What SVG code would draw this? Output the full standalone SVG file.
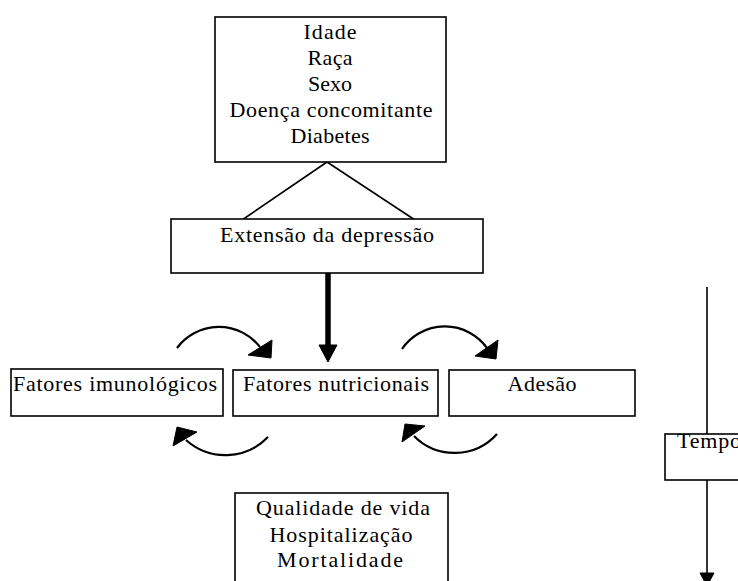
<svg xmlns="http://www.w3.org/2000/svg" width="738" height="581" viewBox="0 0 738 581">
<style>
.box{fill:#fff;stroke:#000;stroke-width:1.6}
.t{font-family:"Liberation Serif","Times New Roman",serif;font-size:22px;fill:#000;text-anchor:middle}
.ln{fill:none;stroke:#000;stroke-width:1.6}
.arc{fill:none;stroke:#000;stroke-width:2.2}
.head{fill:#000;stroke:#000;stroke-width:1}
</style>
<rect width="738" height="581" fill="#fff"/>
<g id="connectors">
<line class="ln" x1="327" y1="162" x2="242" y2="220"/>
<line class="ln" x1="327" y1="162" x2="415" y2="220"/>
<line x1="328" y1="273" x2="328" y2="347" stroke="#000" stroke-width="5.5"/>
<polygon class="head" points="319,345 337,345 328,362"/>
<path class="arc" d="M177,348 A52,52 0 0 1 260,347"/>
<polygon class="head" points="248,355 272,340 271,358"/>
<path class="arc" d="M402,349 A52,52 0 0 1 487,348"/>
<polygon class="head" points="475,356 498,340 496,359"/>
<path class="arc" d="M268,437 A59,59 0 0 1 186,440"/>
<polygon class="head" points="177,427 197,432 173,446"/>
<path class="arc" d="M497,434 A57,57 0 0 1 414,436"/>
<polygon class="head" points="405,424 425,426 402,442"/>
<line class="ln" x1="707" y1="287" x2="707" y2="576"/>
<polygon class="head" points="700,573 714,573 707,586"/>
</g>
<g id="fatores-risco">
<rect class="box" x="215" y="17" width="231" height="145"/>
<text class="t" x="330" y="39" textLength="53">Idade</text>
<text class="t" x="330" y="65" textLength="45">Raça</text>
<text class="t" x="330" y="91" textLength="44">Sexo</text>
<text class="t" x="331" y="117" textLength="203">Doença concomitante</text>
<text class="t" x="330" y="143" textLength="79">Diabetes</text>
</g>
<g id="extensao">
<rect class="box" x="171" y="219" width="312" height="54"/>
<text class="t" x="327" y="242" textLength="214">Extensão da depressão</text>
</g>
<g id="imunologicos">
<rect class="box" x="11" y="369" width="212" height="47"/>
<text class="t" x="115" y="391" textLength="204">Fatores imunológicos</text>
</g>
<g id="nutricionais">
<rect class="box" x="233" y="370" width="205" height="46"/>
<text class="t" x="336" y="391" textLength="186">Fatores nutricionais</text>
</g>
<g id="adesao">
<rect class="box" x="449" y="370" width="186" height="46"/>
<text class="t" x="542" y="391" textLength="69">Adesão</text>
</g>
<g id="tempo">
<rect class="box" x="665" y="434" width="90" height="46"/>
<text class="t" x="677" y="448" style="text-anchor:start" textLength="64">Tempo</text>
</g>
<g id="desfechos">
<rect class="box" x="235" y="493" width="213" height="100"/>
<text class="t" x="343" y="515" textLength="174">Qualidade de vida</text>
<text class="t" x="341" y="542" textLength="143">Hospitalização</text>
<text class="t" x="340" y="567" textLength="126">Mortalidade</text>
</g>
</svg>
